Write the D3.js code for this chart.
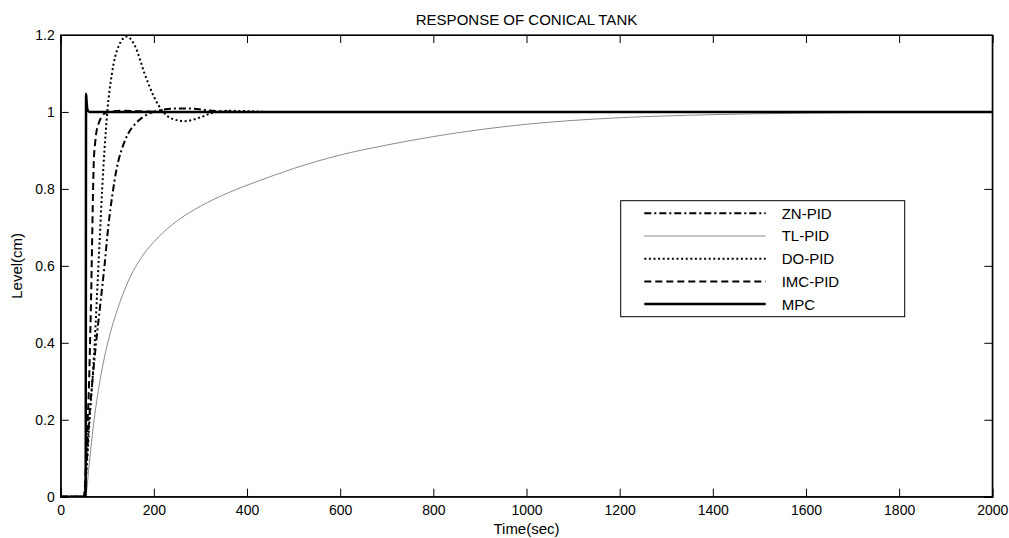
<!DOCTYPE html>
<html><head><meta charset="utf-8">
<script src="https://cdn.jsdelivr.net/npm/d3@7"></script>
<style>body{margin:0;background:#fff}svg{display:block}text{font-family:Arial,"Liberation Sans",sans-serif;fill:#000}</style>
</head><body><svg id="c" width="1009" height="538"></svg>
<script>
const title = "RESPONSE OF CONICAL TANK";
const xLabel = "Time(sec)";
const yLabel = "Level(cm)";
const xTicks = [0,200,400,600,800,1000,1200,1400,1600,1800,2000];
const yTicks = [0,0.2,0.4,0.6,0.8,1,1.2];
const seriesNames = ["ZN-PID","TL-PID","DO-PID","IMC-PID","MPC"];

// [time, level] points
const znPid = [[0,0],[50,0],[55,0.07],[61,0.2],[68,0.3],[76,0.4],[85,0.5],[94,0.6],[102,0.7],[111,0.785],[120,0.852],[132,0.906],[145,0.944],[160,0.969],[177,0.987],[192,0.997],[215,1.005],[250,1.009],[278,1.009],[310,1.005],[350,1.001],[400,1.0],[2000,1.0]];
const tlPid = [[0,0],[50,0],[55,0.01],[60,0.07],[66,0.14],[74,0.22],[87,0.32],[101,0.4],[120,0.48],[145,0.56],[175,0.625],[210,0.675],[250,0.717],[300,0.755],[360,0.79],[430,0.823],[500,0.853],[600,0.888],[700,0.914],[800,0.936],[900,0.954],[1000,0.968],[1100,0.978],[1200,0.985],[1400,0.993],[1600,0.997],[1800,0.999],[2000,1.0]];
const doPid = [[0,0],[50,0],[56,0.08],[62,0.2],[68,0.3],[73,0.4],[77,0.5],[81,0.6],[85,0.7],[89,0.8],[94,0.9],[100,1.0],[110,1.1],[124,1.17],[142,1.196],[160,1.17],[180,1.1],[200,1.04],[220,1.0],[240,0.982],[267,0.976],[300,0.986],[327,0.998],[360,1.003],[400,1.002],[450,1.0],[2000,1.0]];
const imcPid = [[0,0],[50,0],[54,0.08],[58,0.2],[61,0.3],[63,0.4],[65,0.5],[66.5,0.6],[68,0.7],[69.5,0.8],[71,0.87],[74,0.92],[77,0.95],[82,0.972],[88,0.988],[100,0.999],[130,1.003],[170,1.002],[220,1.0],[2000,1.0]];
const mpc = [[0,0],[53.5,0],[54.5,1.047],[56,1.02],[58,1.004],[62,1.0],[2000,1.0]];

const seriesData = [znPid, tlPid, doPid, imcPid, mpc];
const seriesColors = ["#000","#8a8a8a","#000","#000","#000"];
const seriesWidths = [2,1,2,2,2.5];
const seriesDash = ["7,3,2,3",null,"2,2.6","7,4",null];

const svg = d3.select("#c");
const L = 60.7, R = 992.3, T = 35, B = 496.7;
const x = d3.scaleLinear().domain([0,2000]).range([L,R]);
const y = d3.scaleLinear().domain([0,1.2]).range([B,T]);

const clip = svg.append("defs").append("clipPath").attr("id","pc");
clip.append("rect").attr("x",L).attr("y",T).attr("width",R-L).attr("height",B-T);

const line = d3.line().x(d=>x(d[0])).y(d=>y(d[1])).curve(d3.curveMonotoneX);
const g = svg.append("g").attr("clip-path","url(#pc)");
const order = [1,0,2,3,4];
order.forEach(i=>{
  g.append("path").attr("d",line(seriesData[i])).attr("fill","none")
   .attr("stroke",seriesColors[i]).attr("stroke-width",seriesWidths[i])
   .attr("stroke-dasharray",seriesDash[i]).attr("stroke-linejoin","round");
});

// axes
const tk = 8;
const fmt = d=>d3.format("~g")(d);
const axB = svg.append("g").attr("transform",`translate(0,${B})`).call(d3.axisBottom(x).tickValues(xTicks).tickSize(-tk).tickPadding(8).tickFormat(fmt));
const axT = svg.append("g").attr("transform",`translate(0,${T})`).call(d3.axisTop(x).tickValues(xTicks).tickSize(-tk).tickFormat(""));
const axL = svg.append("g").attr("transform",`translate(${L},0)`).call(d3.axisLeft(y).tickValues(yTicks).tickSize(-tk).tickPadding(6).tickFormat(fmt));
const axR = svg.append("g").attr("transform",`translate(${R},0)`).call(d3.axisRight(y).tickValues(yTicks).tickSize(-tk).tickFormat(""));
[axB,axT,axL,axR].forEach(a=>{
  a.select(".domain").attr("stroke","#000").attr("stroke-width",1.2);
  a.selectAll(".tick line").attr("stroke","#000").attr("stroke-width",1);
  a.selectAll("text").style("font-size","14px").attr("fill","#000").style("font-family","Arial, 'Liberation Sans', sans-serif");
});
svg.append("rect").attr("x",L).attr("y",T).attr("width",R-L).attr("height",B-T).attr("fill","none").attr("stroke","#000").attr("stroke-width",1.2);

svg.append("text").attr("x",(L+R)/2).attr("y",25).attr("text-anchor","middle").style("font-size","15px").text(title);
svg.append("text").attr("x",(L+R)/2).attr("y",534).attr("text-anchor","middle").style("font-size","15px").text(xLabel);
svg.append("text").attr("transform",`translate(22,${(T+B)/2}) rotate(-90)`).attr("text-anchor","middle").style("font-size","15px").text(yLabel);

// legend
const lg = svg.append("g");
const lx = 620.7, ly = 200.7, lw = 284, lh = 116;
lg.append("rect").attr("x",lx).attr("y",ly).attr("width",lw).attr("height",lh).attr("fill","#fff").attr("stroke","#000").attr("stroke-width",1);
seriesNames.forEach((nm,i)=>{
  const yy = 213.3 + i*22.7;
  lg.append("line").attr("x1",644.3).attr("x2",765.7).attr("y1",yy).attr("y2",yy)
    .attr("stroke",seriesColors[i]).attr("stroke-width",seriesWidths[i]).attr("stroke-dasharray",seriesDash[i]);
  lg.append("text").attr("x",781.7).attr("y",yy).attr("dy","0.36em").style("font-size","15px").text(nm);
});
</script></body></html>
